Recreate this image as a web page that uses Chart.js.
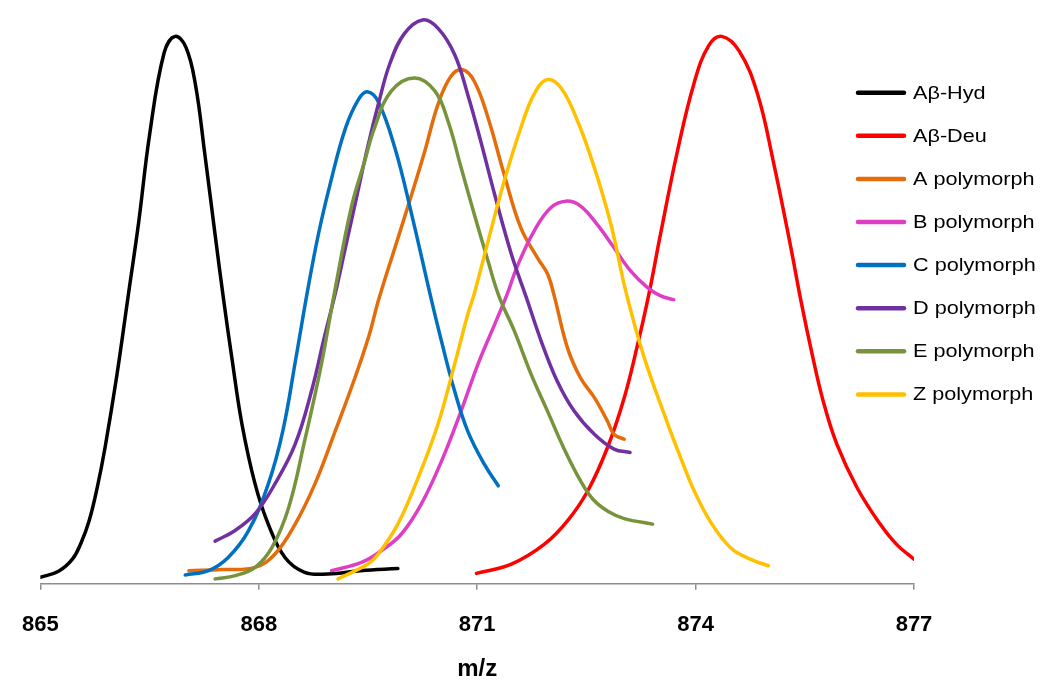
<!DOCTYPE html>
<html>
<head>
<meta charset="utf-8">
<title>m/z spectra</title>
<script src="https://cdn.jsdelivr.net/npm/chart.js@4.4.1/dist/chart.umd.min.js"></script>
<style>
  html, body { margin: 0; padding: 0; background: #fff; }
  #wrap { width: 1050px; height: 690px; }
</style>
</head>
<body>
<div id="wrap"><canvas id="chart" width="1050" height="690"></canvas></div>
<script>
// values: [m/z, relative intensity %]
const hydPts = [[865.0,1.2],[865.25,2.3],[865.44,4.5],[865.56,7.5],[865.67,11.5],[865.78,17.5],[865.89,25],[866.05,38],[866.2,52],[866.35,66],[866.5,82],[866.7,97],[866.85,100],[867.0,98],[867.13,91.2],[867.26,78.4],[867.40,63.8],[867.52,51.6],[867.63,41.3],[867.77,29.1],[867.95,18.2],[868.13,10.9],[868.36,4.8],[868.63,2.1],[868.95,1.8],[869.4,2.4],[869.91,2.8]];
const deuPts = [[870.99,1.9],[871.47,3.6],[871.92,7.2],[872.24,11.5],[872.52,17],[872.79,24.9],[873.02,34],[873.2,43.5],[873.36,53],[873.52,64],[873.75,79],[873.98,91.5],[874.18,98.3],[874.36,100],[874.6,97.3],[874.85,89.5],[875.07,77],[875.3,62],[875.45,51.5],[875.6,42],[875.75,33.5],[875.94,25.5],[876.22,17.5],[876.53,11],[876.76,7.2],[877.0,4.5]];
const polyA = [[867.04,2.4],[867.5,2.6],[867.95,3.0],[868.22,5.4],[868.5,10.9],[868.77,18.2],[869.05,27.9],[869.32,37.6],[869.52,45.6],[869.64,51.6],[869.87,61.4],[870.1,71.1],[870.28,79],[870.46,87.5],[870.64,92.7],[870.8,93.9],[870.96,91.8],[871.15,85.1],[871.37,74.8],[871.6,65],[871.83,59.5],[871.97,56.5],[872.06,52.5],[872.24,43.1],[872.42,37.6],[872.61,34],[872.79,29.7],[872.88,27.3],[873.02,26.4]];
const polyB = [[869.0,2.4],[869.41,3.9],[869.68,6],[869.96,9.1],[870.23,14.5],[870.51,22.4],[870.78,31.6],[871.01,40.1],[871.24,47.4],[871.4,52.5],[871.56,58.3],[871.78,64.4],[872.01,68.7],[872.22,69.9],[872.42,69],[872.65,65.6],[872.88,61.4],[873.11,57.1],[873.34,54.1],[873.52,52.6],[873.7,51.9]];
const polyC = [[866.99,1.6],[867.31,2.4],[867.58,4.8],[867.86,9.7],[868.13,18.2],[868.33,27.9],[868.51,41.2],[868.67,53.5],[868.82,63.9],[868.99,73.5],[869.19,83.2],[869.37,88.5],[869.49,89.9],[869.64,88.1],[869.87,79.6],[870.1,67.5],[870.36,52.5],[870.51,44.3],[870.69,35.2],[870.87,27.9],[871.1,21.8],[871.29,17.9]];
const polyD = [[867.4,7.8],[867.67,9.7],[867.95,12.8],[868.22,18.2],[868.5,25.5],[868.73,35.5],[868.9,45],[869.05,53],[869.2,62],[869.35,71],[869.5,80],[869.65,88],[869.8,95],[870.0,100.5],[870.25,103],[870.46,101.5],[870.69,96.7],[870.87,89.4],[871.05,80.8],[871.24,71.1],[871.47,60.2],[871.67,52.5],[871.88,44.3],[872.1,37],[872.33,31.6],[872.61,27.3],[872.88,24.6],[873.1,24]];
const polyE = [[867.4,0.9],[867.68,1.5],[867.95,3],[868.18,6.6],[868.41,13.9],[868.63,26.1],[868.86,40.1],[869.03,52.5],[869.27,68.7],[869.45,77],[869.59,83.3],[869.82,90],[870.14,92.4],[870.42,90],[870.6,84.5],[870.78,76],[870.96,67.5],[871.15,58.9],[871.3,52.5],[871.51,46.2],[871.74,38.3],[871.97,31.4],[872.2,24.5],[872.42,18.8],[872.6,15.3],[872.8,13.2],[873.02,11.9],[873.41,10.9]];
const polyZ = [[869.09,0.9],[869.5,3.6],[869.64,5.4],[869.91,10.9],[870.19,19.4],[870.46,29.1],[870.69,40.1],[870.87,49.2],[870.96,53],[871.15,62.6],[871.37,73.5],[871.6,83.3],[871.78,89.4],[871.96,92.1],[872.15,90.6],[872.38,84.5],[872.61,76],[872.84,65.5],[873.04,53.5],[873.29,41.5],[873.61,29.5],[873.79,23.2],[873.98,17],[874.21,11.2],[874.48,6.6],[874.75,4.5],[875.0,3.3]];

const labels = ['Aβ-Hyd', 'Aβ-Deu', 'A polymorph', 'B polymorph', 'C polymorph', 'D polymorph', 'E polymorph', 'Z polymorph'];
const colors = ['#000000', '#ff0000', '#e46c0a', '#dd3ec4', '#0070c0', '#7030a0', '#77933c', '#ffc000'];
const seriesPts = [hydPts, deuPts, polyA, polyB, polyC, polyD, polyE, polyZ];
const xTicks = [865, 868, 871, 874, 877];

const FONT = "'Liberation Sans', Arial, sans-serif";

// legend sits over the plot, right side
const overlayLegend = {
  id: 'overlayLegend',
  afterDraw(chart) {
    const c = chart.ctx;
    c.save();
    labels.forEach((lab, i) => {
      const y = 92.7 + i * 43.1;
      c.strokeStyle = colors[i]; c.lineWidth = 4.5; c.lineCap = 'round';
      c.beginPath(); c.moveTo(858, y); c.lineTo(904, y); c.stroke();
      c.save();
      c.translate(913, y);
      c.scale(1.17, 1);
      c.fillStyle = '#000'; c.font = `18.5px ${FONT}`; c.textBaseline = 'middle';
      c.fillText(lab, 0, 1);
      c.restore();
    });
    c.restore();
  }
};

new Chart(document.getElementById('chart'), {
  type: 'line',
  data: {
    datasets: seriesPts.map((pts, i) => ({
      label: labels[i],
      data: pts.map(([x, y]) => ({ x, y })),
      borderColor: colors[i],
      borderWidth: 3.5,
      borderCapStyle: 'round',
      tension: 0.4,
      pointRadius: 0,
      fill: false,
      order: 8 - i
    }))
  },
  options: {
    responsive: false,
    animation: false,
    layout: { padding: { left: 38, right: 136, top: 9, bottom: 2 } },
    plugins: { legend: { display: false }, tooltip: { enabled: false } },
    scales: {
      x: {
        type: 'linear', min: 865, max: 877,
        afterBuildTicks: (s) => { s.ticks = xTicks.map(v => ({ value: v })); },
        ticks: { color: '#000', padding: 22, font: { family: FONT, size: 22, weight: 'bold' }, callback: (v) => String(v) },
        grid: { drawOnChartArea: false, drawTicks: true, tickLength: 6, color: '#8c8c8c', lineWidth: 1.5 },
        border: { color: '#8c8c8c', width: 1.5 },
        title: { display: true, text: 'm/z', color: '#000', padding: { top: -5, bottom: 4 }, font: { family: FONT, size: 24, weight: 'bold' } }
      },
      y: { display: false, min: 0, max: 105 }
    }
  },
  plugins: [overlayLegend]
});
</script>
</body>
</html>
